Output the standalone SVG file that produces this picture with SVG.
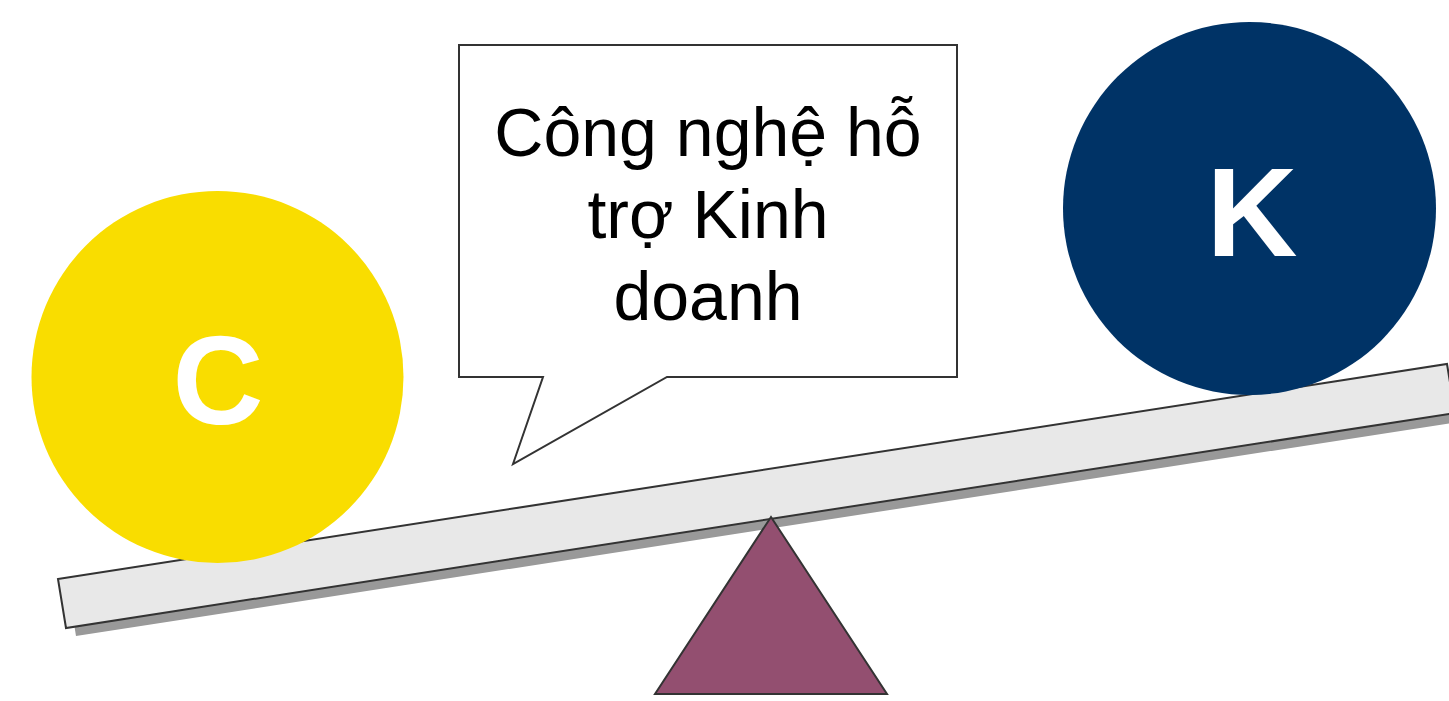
<svg xmlns="http://www.w3.org/2000/svg" width="1449" height="701" viewBox="0 0 1449 701">
<style>
.edge{stroke:#333333;stroke-width:2;stroke-linejoin:miter}
.big{font-family:"Liberation Sans",Arial,sans-serif;font-weight:bold;fill:#ffffff;text-anchor:middle}
.callout{font-family:"Liberation Sans",Arial,sans-serif;font-size:68px;fill:#000000;text-anchor:middle}
</style>
<rect width="1449" height="701" fill="#ffffff"/>
<g id="plank">
<polygon points="58,579 1447,364 1455,413 66,628" fill="#999999" transform="translate(10,8)"/>
<polygon class="edge" points="58,579 1447,364 1455,413 66,628" fill="#e8e8e8"/>
</g>
<g id="fulcrum">
<polygon class="edge" points="771,517 887,694 655,694" fill="#934f70"/>
</g>
<g id="callout">
<path class="edge" d="M459,45 L957,45 L957,377 L667,377 L513,464 L543,377 L459,377 Z" fill="#ffffff"/>
<text class="callout" x="708" y="156">Công nghệ hỗ</text>
<text class="callout" x="708" y="238">trợ Kinh</text>
<text class="callout" x="708" y="320">doanh</text>
</g>
<g id="circle-c">
<circle cx="217.5" cy="377" r="186" fill="#f9dd00"/>
<text class="big" x="218" y="424" font-size="126">C</text>
</g>
<g id="circle-k">
<circle cx="1249.5" cy="208.5" r="186.5" fill="#003366"/>
<text class="big" x="1252" y="256" font-size="126">K</text>
</g>
</svg>
